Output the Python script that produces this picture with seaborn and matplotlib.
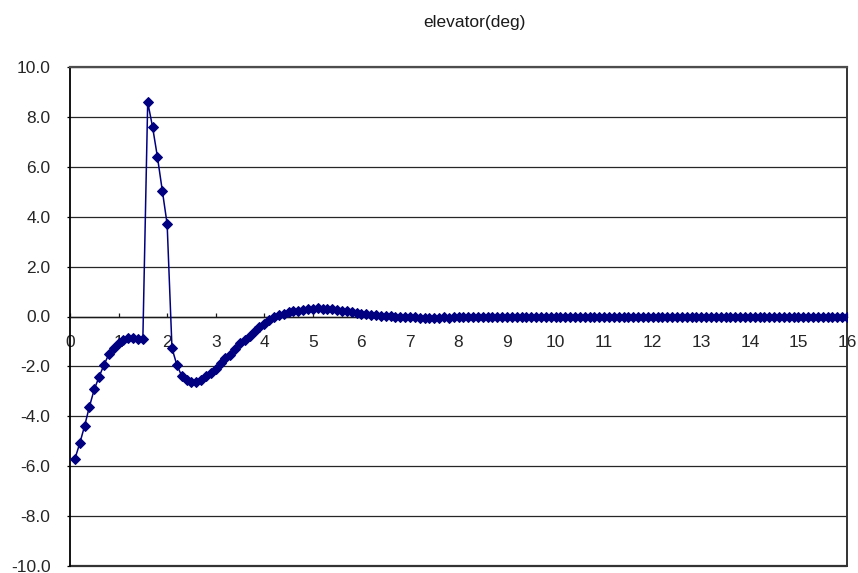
import numpy as np
import pandas as pd
import matplotlib
matplotlib.use("Agg")
import matplotlib.pyplot as plt
import seaborn as sns

# Elevator deflection time history, sampled every 0.1 s
time_s = np.arange(1, 161) / 10.0
elevator_deg = [
    -5.71, -5.09, -4.39, -3.61, -2.92, -2.41, -1.94, -1.51, -1.28, -1.07,
    -0.95, -0.88, -0.87, -0.89, -0.92, 8.59, 7.60, 6.40, 5.05, 3.71,
    -1.27, -1.94, -2.38, -2.54, -2.61, -2.62, -2.54, -2.39, -2.25, -2.11,
    -1.88, -1.68, -1.53, -1.31, -1.08, -0.94, -0.78, -0.57, -0.44, -0.29,
    -0.13, -0.02, 0.05, 0.12, 0.18, 0.21, 0.24, 0.28, 0.30, 0.31,
    0.33, 0.32, 0.30, 0.29, 0.27, 0.24, 0.21, 0.18, 0.15, 0.12,
    0.11, 0.08, 0.06, 0.04, 0.03, 0.01, 0.00, -0.01, -0.02, -0.03,
    -0.04, -0.05, -0.05, -0.06, -0.05, -0.05, -0.04, -0.05, -0.03, -0.03,
    -0.02, -0.03, -0.01, -0.02, -0.03, -0.01, -0.02, 0.00, -0.02, -0.01,
    -0.02, 0.00, -0.01, -0.02, 0.00, -0.01, -0.02, -0.01, 0.00, -0.02,
    -0.01, 0.00, -0.01, -0.02, 0.00, -0.01, 0.00, -0.02, -0.01, 0.00,
    -0.01, -0.02, 0.00, -0.01, 0.00, -0.01, -0.02, 0.00, -0.01, 0.00,
    -0.01, -0.02, 0.00, -0.01, 0.00, -0.02, -0.01, 0.00, -0.01, -0.02,
    0.00, -0.01, 0.00, -0.01, -0.02, 0.00, -0.01, 0.00, -0.02, -0.01,
    0.00, -0.01, -0.02, 0.00, -0.01, 0.00, -0.01, -0.02, 0.00, -0.01,
    0.00, -0.02, -0.01, 0.00, -0.01, -0.02, 0.00, -0.01, 0.00, -0.01,
]
x_ticks = list(range(0, 17))
y_ticks = [-10, -8, -6, -4, -2, 0, 2, 4, 6, 8, 10]
title_text = "elevator(deg)"

df = pd.DataFrame({"time": time_s, "elevator": elevator_deg})

sns.set_style("white")
plt.rcParams["font.family"] = ["Liberation Sans", "DejaVu Sans"]
plt.rcParams["axes.unicode_minus"] = False

fig = plt.figure(figsize=(8.58, 5.73), dpi=100)
ax = fig.add_axes([70 / 858, 7 / 573, 777 / 858, 499 / 573])

sns.lineplot(data=df, x="time", y="elevator", ax=ax, color="#000080",
             linewidth=1.1, marker="D", markersize=5.0,
             markeredgecolor="#000080", markerfacecolor="#000080", zorder=3)

ax.set_xlim(0, 16)
ax.set_ylim(-10, 10)
ax.set_xticks(x_ticks)
ax.set_xticklabels([str(v) for v in x_ticks])
ax.set_yticks(y_ticks)
ax.set_yticklabels([f"{v:.1f}" for v in y_ticks])
ax.set_xlabel("")
ax.set_ylabel("")

# horizontal gridlines only
ax.yaxis.grid(True, color="#262626", linewidth=0.9)
ax.xaxis.grid(False)
ax.set_axisbelow(True)

# x axis crosses at zero, frame around the plot area
ax.spines["bottom"].set_position(("data", 0))
ax.spines["bottom"].set_color("#1a1a1a")
ax.spines["bottom"].set_linewidth(1.0)
ax.spines["left"].set_color("black")
ax.spines["left"].set_linewidth(1.3)
ax.spines["top"].set_color("#4d4d4d")
ax.spines["top"].set_linewidth(1.6)
ax.spines["right"].set_color("#333333")
ax.spines["right"].set_linewidth(1.4)
ax.axhline(-10, color="#333333", linewidth=1.6, clip_on=False, zorder=2.5)

ax.tick_params(axis="x", direction="in", length=3, width=0.9,
               color="#1a1a1a", pad=13, labelsize=12.5, bottom=True)
ax.tick_params(axis="y", direction="out", length=2.5, width=0.9,
               color="black", pad=11.5, labelsize=12.5, left=True)

fig.text(474 / 858, 1 - 22 / 573, title_text, ha="center", va="center",
         fontsize=12.5, color="#1a1a1a")

fig.savefig("out.png", dpi=100)
